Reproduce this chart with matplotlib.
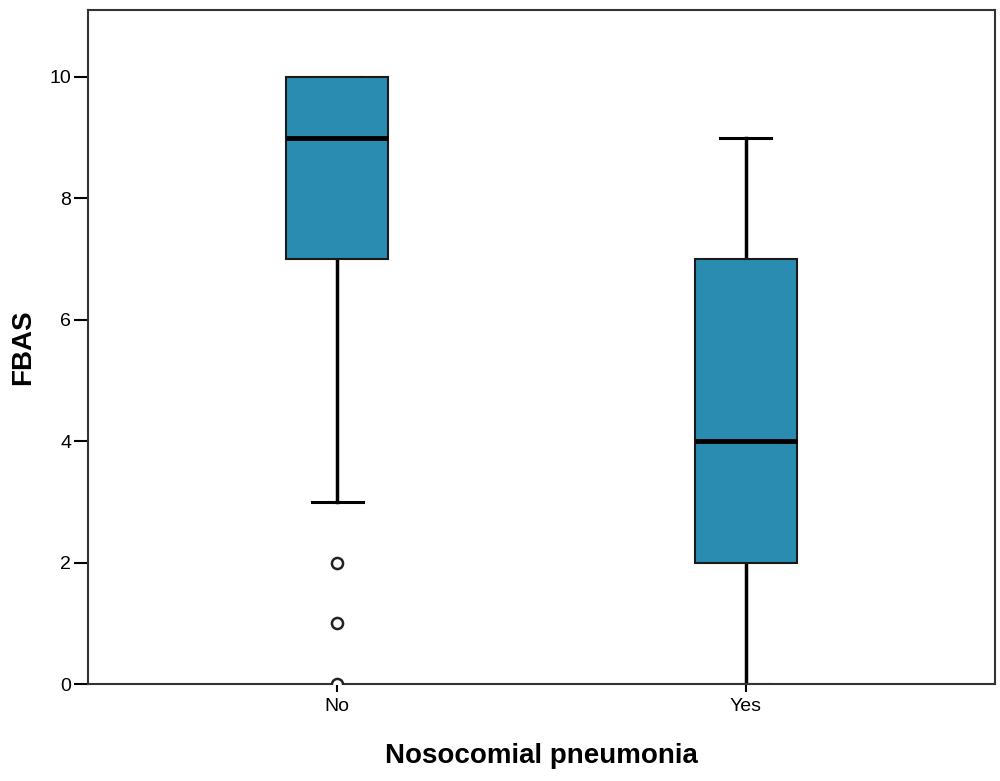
import matplotlib
matplotlib.use("Agg")
import matplotlib.pyplot as plt

plt.rcParams["font.family"] = ["Liberation Sans", "DejaVu Sans"]

groups = ["No", "Yes"]
medians = [9, 4]
q1s = [7, 2]
q3s = [10, 7]
whisker_low = [3, 0]
whisker_high = [10, 9]
outliers = [[2, 1, 0], []]

stats = []
for g, med, q1, q3, lo, hi, fl in zip(groups, medians, q1s, q3s, whisker_low, whisker_high, outliers):
    stats.append({"label": g, "med": med, "q1": q1, "q3": q3,
                  "whislo": lo, "whishi": hi, "fliers": fl})

fig = plt.figure(figsize=(10, 7.81), dpi=100)
ax = fig.add_axes([0.088, 0.124, 0.907, 0.863])

ax.bxp(stats, positions=[1, 2], widths=0.25, patch_artist=True,
       boxprops=dict(facecolor="#2a8cb0", edgecolor="#1a1a1a", linewidth=1.5, zorder=3),
       medianprops=dict(color="black", linewidth=3.5, zorder=4),
       whiskerprops=dict(color="black", linewidth=2.5, zorder=1),
       capprops=dict(color="black", linewidth=2.2, zorder=1),
       capwidths=0.125,
       flierprops=dict(marker="o", markersize=8, markerfacecolor="white",
                       markeredgecolor="#222222", markeredgewidth=1.8, zorder=4))

ax.set_xlim(0.39, 2.61)
ax.set_ylim(0, 11.1)
ax.set_yticks([0, 2, 4, 6, 8, 10])
ax.set_xticks([1, 2])
ax.set_xticklabels(groups)
ax.tick_params(axis="y", length=10, width=1.5, labelsize=14, pad=2)
ax.tick_params(axis="x", length=6, width=1.5, labelsize=14, pad=4)
for s in ax.spines.values():
    s.set_linewidth(1.5)
    s.set_color("#333333")

ax.set_ylabel("FBAS", fontsize=20, fontweight="bold", labelpad=10)
ax.set_xlabel("Nosocomial pneumonia", fontsize=20, fontweight="bold", labelpad=20)

fig.savefig("out.png", dpi=100)
